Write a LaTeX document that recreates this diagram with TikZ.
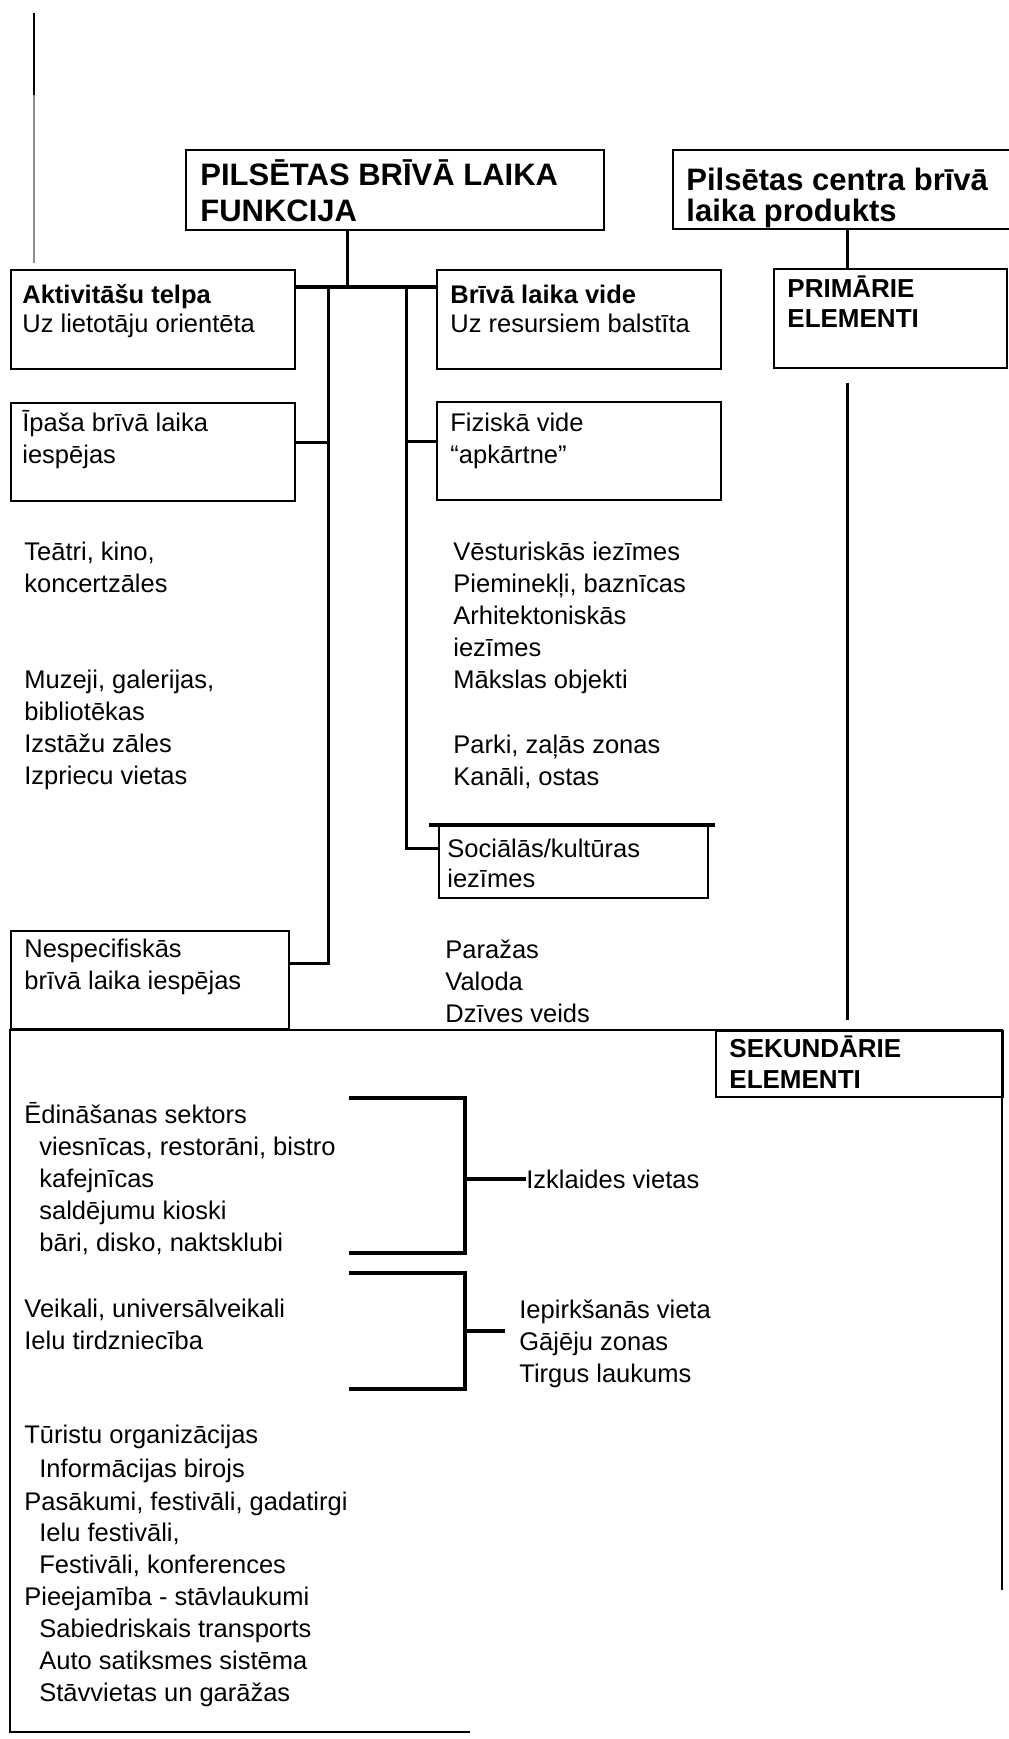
\documentclass[tikz,border=0pt]{standalone}
\usepackage{fontspec}
\setmainfont{Liberation Sans}
\begin{document}
\begin{tikzpicture}[x=0.5pt,y=-0.5pt,
  box/.style={draw, line width=1pt, inner sep=0pt, anchor=north west},
  txt/.style={anchor=base west, inner sep=0pt, align=left, font=\fontsize{12.75}{16}\selectfont},
  bxtxt/.style={txt, font=\fontsize{12.75}{14.5}\selectfont},
  bold/.style={txt, font=\fontsize{13}{14.5}\selectfont\bfseries},
  head/.style={anchor=base west, inner sep=0pt, align=left, font=\fontsize{15.5}{18}\selectfont\bfseries},
  conn/.style={line width=1.5pt},
  brk/.style={line width=1.8pt}]
\useasboundingbox (0,0) rectangle (1008,1739);

% left scan line
\coordinate (s1) at (34,13); \coordinate (s2) at (34,95); \coordinate (s3) at (34,263);
\draw[line width=0.9pt] (s1) -- (s2);
\draw[line width=0.6pt, black!45] (s2) -- (s3);

% boxes
\node[box, minimum width=209pt, minimum height=40pt] (pf) at (185,149) {};
\node[box, minimum width=170pt, minimum height=39.5pt] (pc) at (672,149) {};
\node[box, minimum width=142pt, minimum height=49.5pt] (akt) at (10,269) {};
\node[box, minimum width=142pt, minimum height=49.5pt] (bv) at (436,269) {};
\node[box, minimum width=116.5pt, minimum height=49.5pt] (prim) at (773,268) {};
\node[box, minimum width=142pt, minimum height=49pt] (ipasa) at (10,402) {};
\node[box, minimum width=142pt, minimum height=49pt] (fiz) at (436,401) {};
\node[box, minimum width=134.5pt, minimum height=36pt] (soc) at (438,825) {};
\node[box, minimum width=139pt, minimum height=49pt] (nesp) at (10,930) {};
\node[box, minimum width=143.5pt, minimum height=33pt] (sek) at (715,1030) {};

% big frame (partly faded in the scan)
\coordinate (f1) at (1002,1590); \coordinate (f2) at (1002,1030);
\coordinate (f3) at (10,1030); \coordinate (f4) at (10,1732); \coordinate (f5) at (470,1732);
\draw[line width=1pt] (f1) -- (f2) -- (f3) -- (f4) -- (f5);

% box texts (anchor = baseline of the last line)
\node[head] (tpf) at (200,222) {PILSĒTAS BRĪVĀ LAIKA\\FUNKCIJA};
\node[head, font=\fontsize{15.5}{16}\selectfont\bfseries] (tpc) at (686,222) {Pilsētas centra brīvā\\laika produkts};
\node[bxtxt] (takt) at (22,332) {\textbf{Aktivitāšu telpa}\\Uz lietotāju orientēta};
\node[bxtxt] (tbv) at (450,332) {\textbf{Brīvā laika vide}\\Uz resursiem balstīta};
\node[bold] (tprim) at (787,327) {PRIMĀRIE\\ELEMENTI};
\node[txt] (tipasa) at (22,463) {Īpaša brīvā laika\\iespējas};
\node[txt] (tfiz) at (450,463) {Fiziskā vide\\“apkārtne”};
\node[txt, font=\fontsize{12.75}{15}\selectfont] (tsoc) at (447,887) {Sociālās/kultūras\\iezīmes};
\node[txt] (tnesp) at (24,989) {Nespecifiskās\\brīvā laika iespējas};
\node[bold, font=\fontsize{13}{15.5}\selectfont\bfseries] (tsek) at (729,1088) {SEKUNDĀRIE\\ELEMENTI};

% free texts
\node[txt] (teatri) at (24,592) {Teātri, kino,\\koncertzāles};
\node[txt] (muzeji) at (24,784) {Muzeji, galerijas,\\bibliotēkas\\Izstāžu zāles\\Izpriecu vietas};
\node[txt] (vest) at (453,688) {Vēsturiskās iezīmes\\Pieminekļi, baznīcas\\Arhitektoniskās\\iezīmes\\Mākslas objekti};
\node[txt] (parki) at (453,785) {Parki, zaļās zonas\\Kanāli, ostas};
\node[txt] (paraz) at (445,1022) {Paražas\\Valoda\\Dzīves veids};

\node[txt] (edin) at (24,1123) {Ēdināšanas sektors};
\node[txt] (edin2) at (39,1251) {viesnīcas, restorāni, bistro\\kafejnīcas\\saldējumu kioski\\bāri, disko, naktsklubi};
\node[txt] (veik) at (24,1349) {Veikali, universālveikali\\Ielu tirdzniecība};
\node[txt] (izk) at (526,1188) {Izklaides vietas};
\node[txt] (iep) at (519,1382) {Iepirkšanās vieta\\Gājēju zonas\\Tirgus laukums};
\node[txt] (tur) at (24,1443) {Tūristu organizācijas};
\node[txt] (tur2) at (39,1477) {Informācijas birojs};
\node[txt] (pas) at (24,1510) {Pasākumi, festivāli, gadatirgi};
\node[txt] (pas2) at (39,1573) {Ielu festivāli,\\Festivāli, konferences};
\node[txt] (pie) at (24,1605) {Pieejamība - stāvlaukumi};
\node[txt] (pie2) at (39,1701) {Sabiedriskais transports\\Auto satiksmes sistēma\\Stāvvietas un garāžas};

% connectors
\coordinate (j0) at (347,287);
\coordinate (tL) at (328,287); \coordinate (tR) at (406,287);
\coordinate (tLe) at (328,963); \coordinate (tRe) at (406,848);
\coordinate (ci) at (328,442); \coordinate (cf) at (406,441);
\draw[conn] (pf.south -| j0) -- (j0);
\draw[line width=1.9pt] (akt.east |- j0) -- (bv.west |- j0);
\draw[conn] (tL) -- (tLe) -- (nesp.east |- tLe);
\draw[conn] (tR) -- (tRe) -- (soc.west |- tRe);
\draw[conn] (ipasa.east |- ci) -- (ci);
\draw[conn] (cf) -- (fiz.west |- cf);
\draw[line width=1.8pt] ([xshift=-4.5pt]soc.north west) -- ([xshift=3pt]soc.north east);

\coordinate (cpx) at (847,0);
\draw[conn] (pc.south -| cpx) -- (prim.north -| cpx);
\coordinate (p1) at (847,383); \coordinate (p2) at (847,1020);
\draw[conn] (p1) -- (p2);

% brackets
\coordinate (b1a) at (349,1098); \coordinate (b1t) at (465,1098);
\coordinate (b1b) at (465,1253); \coordinate (b1d) at (349,1253);
\draw[brk] (b1a) -- (b1t) -- (b1b) -- (b1d);
\draw[brk] (izk.west -| b1t) -- (izk.west);
\coordinate (b2a) at (349,1273); \coordinate (b2t) at (465,1273);
\coordinate (b2b) at (465,1389); \coordinate (b2d) at (349,1389);
\coordinate (b2m) at (465,1331); \coordinate (b2e) at (505,1331);
\draw[brk] (b2a) -- (b2t) -- (b2b) -- (b2d);
\draw[brk] (b2m) -- (b2e);
\end{tikzpicture}
\end{document}
